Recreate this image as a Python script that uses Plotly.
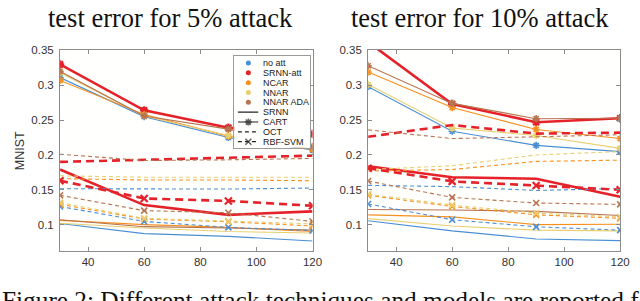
import plotly.graph_objects as go

# ---------------- data ----------------
x_vals = [30, 60, 90, 120]
attacks = ["no att", "SRNN-att", "NCAR", "NNAR", "NNAR ADA"]
models = ["SRNN", "CART", "OCT", "RBF-SVM"]
x_ticks = [40, 60, 80, 100, 120]
y_ticks = [0.1, 0.15, 0.2, 0.25, 0.3, 0.35]
y_tick_text = ["0.1", "0.15", "0.2", "0.25", "0.3", "0.35"]
titles = ["test error for 5% attack", "test error for 10% attack"]
y_label = "MNIST"
caption = "Figure 2: Different attack techniques and models are reported for"

# 5% attack panel
srnn_5 = {"no att": [0.1015, 0.087, 0.083, 0.0765], "SRNN-att": [0.179, 0.128, 0.114, 0.119],
          "NCAR": [0.106, 0.100, 0.096, 0.090], "NNAR": [0.102, 0.095, 0.090, 0.088],
          "NNAR ADA": [0.107, 0.097, 0.095, 0.092]}
cart_5 = {"no att": [0.311, 0.255, 0.225, 0.207], "SRNN-att": [0.330, 0.264, 0.239, 0.230],
          "NCAR": [0.307, 0.258, 0.227, 0.208], "NNAR": [0.318, 0.256, 0.228, 0.213],
          "NNAR ADA": [0.320, 0.256, 0.237, 0.212]}
oct_5 = {"no att": [0.1515, 0.151, 0.151, 0.1525], "SRNN-att": [0.190, 0.193, 0.196, 0.199],
         "NCAR": [0.166, 0.164, 0.164, 0.163], "NNAR": [0.170, 0.168, 0.168, 0.168],
         "NNAR ADA": [0.201, 0.192, 0.193, 0.195]}
rbf_5 = {"no att": [0.126, 0.1045, 0.096, 0.0915], "SRNN-att": [0.163, 0.1375, 0.134, 0.127],
         "NCAR": [0.129, 0.108, 0.104, 0.098], "NNAR": [0.1315, 0.109, 0.105, 0.101],
         "NNAR ADA": [0.142, 0.120, 0.117, 0.1045]}

# 10% attack panel
srnn_10 = {"no att": [0.1056, 0.091, 0.0794, 0.077], "SRNN-att": [0.1837, 0.168, 0.1658, 0.140],
           "NCAR": [0.114, 0.111, 0.100, 0.1005], "NNAR": [0.1085, 0.098, 0.092, 0.091],
           "NNAR ADA": [0.1217, 0.121, 0.119, 0.113]}
cart_10 = {"no att": [0.298, 0.234, 0.2137, 0.2048], "SRNN-att": [0.362, 0.273, 0.247, 0.2527],
           "NCAR": [0.319, 0.268, 0.2366, 0.2235], "NNAR": [0.301, 0.2386, 0.228, 0.2094],
           "NNAR ADA": [0.328, 0.274, 0.252, 0.2527]}
oct_10 = {"no att": [0.1563, 0.1545, 0.149, 0.1517], "SRNN-att": [0.226, 0.243, 0.2306, 0.232],
          "NCAR": [0.177, 0.179, 0.1907, 0.1925], "NNAR": [0.179, 0.1845, 0.200, 0.2048],
          "NNAR ADA": [0.236, 0.2235, 0.226, 0.229]}
rbf_10 = {"no att": [0.1296, 0.107, 0.0968, 0.092], "SRNN-att": [0.181, 0.162, 0.156, 0.150],
          "NCAR": [0.142, 0.126, 0.114, 0.109], "NNAR": [0.1437, 0.128, 0.1165, 0.111],
          "NNAR ADA": [0.1625, 0.139, 0.131, 0.129]}

panels = [
    {"SRNN": srnn_5, "CART": cart_5, "OCT": oct_5, "RBF-SVM": rbf_5},
    {"SRNN": srnn_10, "CART": cart_10, "OCT": oct_10, "RBF-SVM": rbf_10},
]

# ---------------- styles ----------------
colors = {"no att": "#4A8FD4", "SRNN-att": "#E5222A", "NCAR": "#F7901E",
          "NNAR": "#E8CF72", "NNAR ADA": "#B8744F"}
model_style = {
    "SRNN": dict(dash="solid", marker=None),
    "CART": dict(dash="solid", marker="asterisk-open"),
    "OCT": dict(dash="4px,3px", marker=None),
    "RBF-SVM": dict(dash="4px,3px", marker="x-thin-open"),
}

fig = go.Figure()

for pi, panel in enumerate(panels):
    xa = "x" if pi == 0 else "x2"
    ya = "y" if pi == 0 else "y2"
    for m in models:
        st = model_style[m]
        for a in attacks:
            red = a == "SRNN-att"
            lw = 2.6 if red else 1.1
            dash = st["dash"]
            if red and dash != "solid":
                dash = "8px,5px"
            kw = dict(x=x_vals, y=panel[m][a], xaxis=xa, yaxis=ya, showlegend=False,
                      hoverinfo="skip",
                      line=dict(color=colors[a], width=lw, dash=dash))
            if st["marker"]:
                kw["mode"] = "lines+markers"
                kw["marker"] = dict(symbol=st["marker"], size=6 if not red else 7,
                                    color=colors[a],
                                    line=dict(color=colors[a], width=1.6 if not red else 2.2))
            else:
                kw["mode"] = "lines"
            fig.add_trace(go.Scatter(**kw))

# ---------------- manual legend (inset axes) ----------------
W, H = 640.0, 301.0
leg_x0, leg_x1, leg_top, leg_bot = 238.0, 315.0, 52.3, 145.0
leg_h = leg_bot - leg_top
leg_w = leg_x1 - leg_x0
entries = attacks + models
for i, name in enumerate(entries):
    yy = 1 - (6.7 + 10.0 * i) / leg_h
    if i < len(attacks):
        fig.add_trace(go.Scatter(x=[(252.3 - leg_x0) / leg_w], y=[yy], xaxis="x3", yaxis="y3",
                                 mode="markers", showlegend=False, hoverinfo="skip",
                                 marker=dict(symbol="circle", size=5, color=colors[name])))
    else:
        st = model_style[name]
        xs = [(241.7 - leg_x0) / leg_w, (252.3 - leg_x0) / leg_w, (262.3 - leg_x0) / leg_w]
        kw = dict(x=xs, y=[yy] * 3, xaxis="x3", yaxis="y3", showlegend=False,
                  hoverinfo="skip", line=dict(color="#222222", width=1.2, dash=st["dash"]))
        if st["marker"]:
            kw["mode"] = "lines+markers"
            kw["marker"] = dict(symbol=st["marker"], size=[0, 6, 0], color="#222222",
                                line=dict(color="#222222", width=1.6))
        else:
            kw["mode"] = "lines"
        fig.add_trace(go.Scatter(**kw))
    fig.add_annotation(x=(265 - leg_x0) / leg_w, y=yy, xref="x3", yref="y3", text=name,
                       showarrow=False, xanchor="left", yanchor="middle",
                       font=dict(family="Liberation Sans", size=9, color="#222222"))

# ---------------- axes ----------------
y_dom = [1 - 250 / H, 1 - 45.5 / H]
axis_common = dict(showline=True, mirror="ticks", linecolor="#8c8c8c", linewidth=1,
                   ticks="inside", ticklen=4, tickcolor="#8c8c8c", showgrid=False,
                   zeroline=False, tickfont=dict(family="Liberation Sans", size=11.5, color="#333333"))
fig.update_layout(
    xaxis=dict(domain=[61 / W, 317.5 / W], range=[30, 120], tickvals=x_ticks,
               ticklabelstandoff=0, anchor="y", **axis_common),
    yaxis=dict(domain=y_dom, range=[0.0623, 0.351], tickvals=y_ticks, ticktext=y_tick_text,
               ticklabelstandoff=3, anchor="x", **axis_common),
    xaxis2=dict(domain=[374 / W, 630 / W], range=[30, 120], tickvals=x_ticks,
                ticklabelstandoff=0, anchor="y2", **axis_common),
    yaxis2=dict(domain=y_dom, range=[0.0623, 0.351], tickvals=y_ticks, ticktext=y_tick_text,
                ticklabelstandoff=3, anchor="x2", **axis_common),
    xaxis3=dict(domain=[leg_x0 / W, leg_x1 / W], range=[0, 1], showline=True, mirror=True,
                linecolor="#9a9a9a", linewidth=1, showticklabels=False, ticks="",
                showgrid=False, zeroline=False, anchor="y3", fixedrange=True),
    yaxis3=dict(domain=[1 - leg_bot / H, 1 - leg_top / H], range=[0, 1], showline=True,
                mirror=True, linecolor="#9a9a9a", linewidth=1, showticklabels=False,
                ticks="", showgrid=False, zeroline=False, anchor="x3", fixedrange=True),
    width=640, height=301, margin=dict(l=0, r=0, t=0, b=0),
    paper_bgcolor="#ffffff", plot_bgcolor="#fffffe", showlegend=False,
)

# y axis label
fig.add_annotation(x=20 / W, y=1 - 148 / H, xref="paper", yref="paper", text=y_label,
                   textangle=-90, showarrow=False, xanchor="center", yanchor="middle",
                   font=dict(family="Liberation Sans", size=12.5, color="#333333"))
# titles
for cx, t in zip([173, 488], titles):
    fig.add_annotation(x=cx / W, y=1 - 13 / H, xref="paper", yref="paper", text=t,
                       showarrow=False, xanchor="center", yanchor="middle",
                       font=dict(family="Liberation Serif", size=26.5, color="#111111"))
# caption (cropped at the bottom of the image)
fig.add_annotation(x=0, y=1 - 284 / H, xref="paper", yref="paper", text=caption,
                   showarrow=False, xanchor="left", yanchor="top",
                   font=dict(family="Liberation Serif", size=25.3, color="#111111"))

fig.write_html("out.html", config={"displayModeBar": False},
               post_script="document.body.style.margin='0';document.body.style.overflow='hidden';")
